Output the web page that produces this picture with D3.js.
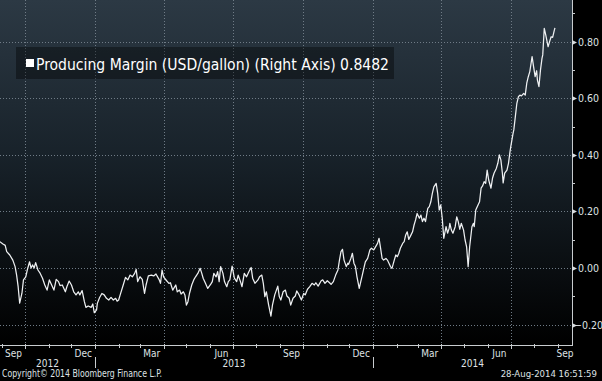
<!DOCTYPE html>
<html><head><meta charset="utf-8">
<script src="https://cdn.jsdelivr.net/npm/d3@7/dist/d3.min.js"></script>
<style>
html,body{margin:0;padding:0;background:#000;overflow:hidden;}
svg{display:block;}
text{font-family:"Liberation Sans Narrow","DejaVu Sans Condensed","Arial Narrow","Liberation Sans",sans-serif;}
</style></head>
<body>
<svg id="chart" width="602" height="381"></svg>
<script>
const seriesName = "Producing Margin (USD/gallon) (Right Axis)";
const lastValue = "0.8482";
const copyrightText = "Copyright\u00A9 2014 Bloomberg Finance L.P.";
const stampText = "28-Aug-2014 16:51:59";
const yTicks = [-0.2, 0, 0.2, 0.4, 0.6, 0.8];
const yMinorTicks = [-0.1, 0.1, 0.3, 0.5, 0.7, 0.9];
const xDomain = ["2012-08-29T04:00Z", "2014-09-19T10:00Z"];
const yDomain = [-0.272, 0.947];

const dates = [
"2012-08-29","2012-09-02","2012-09-05","2012-09-07","2012-09-11","2012-09-15","2012-09-18","2012-09-20","2012-09-22","2012-09-24",
"2012-09-27","2012-09-29","2012-10-02","2012-10-04","2012-10-07","2012-10-09","2012-10-11","2012-10-13","2012-10-15","2012-10-18",
"2012-10-21","2012-10-24","2012-10-27","2012-10-30","2012-11-02","2012-11-05","2012-11-08","2012-11-11","2012-11-14","2012-11-16",
"2012-11-19","2012-11-23","2012-11-25","2012-11-28","2012-12-01","2012-12-04","2012-12-07","2012-12-10","2012-12-12","2012-12-15",
"2012-12-18","2012-12-20","2012-12-23","2012-12-27","2012-12-29","2012-12-31","2013-01-03","2013-01-04","2013-01-07","2013-01-10",
"2013-01-13","2013-01-16","2013-01-19","2013-01-22","2013-01-25","2013-01-28","2013-01-30","2013-02-01","2013-02-03","2013-02-07",
"2013-02-10","2013-02-13","2013-02-16","2013-02-19","2013-02-22","2013-02-24","2013-02-26","2013-03-01","2013-03-04","2013-03-07",
"2013-03-09","2013-03-12","2013-03-16","2013-03-19","2013-03-22","2013-03-26","2013-03-28","2013-03-30","2013-04-01","2013-04-05",
"2013-04-08","2013-04-10","2013-04-13","2013-04-17","2013-04-19","2013-04-22","2013-04-24","2013-04-27","2013-04-29","2013-05-01",
"2013-05-03","2013-05-05","2013-05-08","2013-05-11","2013-05-13","2013-05-16","2013-05-19","2013-05-21","2013-05-23","2013-05-26",
"2013-05-29","2013-06-02","2013-06-04","2013-06-06","2013-06-09","2013-06-11","2013-06-13","2013-06-15","2013-06-18","2013-06-20",
"2013-06-23","2013-06-25","2013-06-27","2013-06-30","2013-07-03","2013-07-06","2013-07-08","2013-07-11","2013-07-13","2013-07-16",
"2013-07-19","2013-07-22","2013-07-25","2013-07-27","2013-07-30","2013-08-03","2013-08-05","2013-08-08","2013-08-10","2013-08-12",
"2013-08-14","2013-08-17","2013-08-20","2013-08-22","2013-08-25","2013-08-29","2013-08-31","2013-09-02","2013-09-05","2013-09-08",
"2013-09-10","2013-09-13","2013-09-15","2013-09-18","2013-09-21","2013-09-23","2013-09-26","2013-09-29","2013-10-02","2013-10-04",
"2013-10-07","2013-10-10","2013-10-13","2013-10-16","2013-10-18","2013-10-21","2013-10-25","2013-10-27","2013-10-30","2013-11-02",
"2013-11-05","2013-11-07","2013-11-10","2013-11-13","2013-11-16","2013-11-18","2013-11-20","2013-11-22","2013-11-24","2013-11-27",
"2013-11-29","2013-11-30","2013-12-03","2013-12-05","2013-12-07","2013-12-09","2013-12-11","2013-12-14","2013-12-16","2013-12-18",
"2013-12-20","2013-12-22","2013-12-25","2013-12-28","2013-12-30","2014-01-02","2014-01-04","2014-01-07","2014-01-09","2014-01-11",
"2014-01-13","2014-01-15","2014-01-18","2014-01-20","2014-01-22","2014-01-24","2014-01-26","2014-01-29","2014-01-31","2014-02-02",
"2014-02-04","2014-02-06","2014-02-09","2014-02-11","2014-02-13","2014-02-15","2014-02-17","2014-02-20","2014-02-22","2014-02-24",
"2014-02-26","2014-02-28","2014-03-03","2014-03-05","2014-03-07","2014-03-09","2014-03-11","2014-03-14","2014-03-16","2014-03-18",
"2014-03-20","2014-03-22","2014-03-25","2014-03-27","2014-03-29","2014-03-31","2014-04-02","2014-04-04","2014-04-07","2014-04-09",
"2014-04-11","2014-04-12","2014-04-14","2014-04-16","2014-04-19","2014-04-21","2014-04-23","2014-04-25","2014-04-27","2014-04-30",
"2014-05-02","2014-05-04","2014-05-06","2014-05-08","2014-05-11","2014-05-13","2014-05-14","2014-05-16","2014-05-19","2014-05-21",
"2014-05-23","2014-05-25","2014-05-27","2014-05-29","2014-05-31","2014-06-02","2014-06-05","2014-06-07","2014-06-09","2014-06-12",
"2014-06-14","2014-06-16","2014-06-18","2014-06-20","2014-06-21","2014-06-23","2014-06-26","2014-06-28","2014-06-30","2014-07-01",
"2014-07-04","2014-07-05","2014-07-07","2014-07-09","2014-07-11","2014-07-13","2014-07-15","2014-07-18","2014-07-20","2014-07-22",
"2014-07-24","2014-07-26","2014-07-29","2014-07-31","2014-08-02","2014-08-04","2014-08-05","2014-08-07","2014-08-09","2014-08-11",
"2014-08-12","2014-08-14","2014-08-16","2014-08-19","2014-08-21","2014-08-23","2014-08-25","2014-08-27","2014-08-28"
];
const values = [
0.093,0.085,0.080,0.058,0.046,0.028,0.005,-0.025,-0.066,-0.124,
-0.089,-0.042,-0.031,-0.007,0.022,0.000,0.011,0.000,0.019,-0.007,
-0.019,-0.036,-0.060,-0.078,-0.042,-0.060,-0.078,-0.040,-0.048,-0.062,
-0.060,-0.084,-0.066,-0.046,-0.060,-0.084,-0.095,-0.084,-0.095,-0.080,
-0.119,-0.139,-0.134,-0.139,-0.127,-0.158,-0.148,-0.125,-0.104,-0.090,
-0.095,-0.107,-0.113,-0.104,-0.113,-0.107,-0.117,-0.113,-0.095,-0.060,
-0.033,-0.042,-0.025,-0.031,-0.019,-0.005,-0.048,-0.031,-0.040,-0.090,
-0.060,-0.028,-0.025,-0.028,-0.021,-0.040,-0.054,-0.007,-0.031,-0.045,
-0.054,-0.052,-0.078,-0.060,-0.084,-0.078,-0.092,-0.084,-0.095,-0.131,
-0.119,-0.090,-0.060,-0.040,-0.031,-0.019,-0.001,-0.017,-0.036,-0.054,
-0.072,-0.057,-0.048,-0.019,-0.031,-0.013,-0.048,0.005,-0.019,-0.048,
-0.066,-0.048,-0.042,0.007,-0.036,-0.048,-0.025,-0.048,-0.066,-0.019,
-0.031,-0.013,0.002,-0.036,-0.054,-0.042,-0.031,-0.025,-0.054,-0.101,
-0.084,-0.131,-0.170,-0.131,-0.095,-0.064,-0.101,-0.113,-0.084,-0.078,
-0.099,-0.107,-0.131,-0.107,-0.099,-0.081,-0.095,-0.113,-0.090,-0.095,
-0.075,-0.066,-0.054,-0.060,-0.052,-0.064,-0.045,-0.042,-0.054,-0.045,
-0.052,-0.058,-0.048,-0.025,-0.007,0.028,0.058,0.066,0.028,0.005,
0.017,0.013,0.034,0.052,0.017,0.005,-0.031,-0.072,-0.048,-0.025,
-0.001,0.022,0.034,0.064,0.070,0.064,0.073,0.087,0.105,0.070,
0.034,0.028,0.034,0.028,0.017,0.005,-0.001,0.028,0.046,0.040,
0.052,0.070,0.087,0.093,0.117,0.128,0.101,0.117,0.128,0.152,
0.170,0.193,0.176,0.187,0.164,0.176,0.164,0.211,0.217,0.234,
0.264,0.287,0.299,0.264,0.205,0.223,0.176,0.105,0.146,0.123,
0.140,0.158,0.134,0.123,0.146,0.181,0.164,0.137,0.158,0.134,
0.099,0.075,0.005,0.075,0.146,0.158,0.146,0.205,0.223,0.234,
0.282,0.290,0.305,0.299,0.346,0.311,0.282,0.317,0.335,0.352,
0.370,0.400,0.382,0.335,0.301,0.335,0.346,0.370,0.411,0.429,
0.476,0.488,0.535,0.582,0.605,0.611,0.608,0.617,0.611,0.653,
0.676,0.694,0.747,0.711,0.676,0.697,0.664,0.641,0.699,0.741,
0.753,0.847,0.823,0.782,0.800,0.817,0.815,0.838,0.8482
];

const W = 572, H = 345;
const svg = d3.select("#chart");
const parse = d3.utcParse("%Y-%m-%d");
const data = dates.map((d, i) => ({date: parse(d), value: values[i]}));

const x = d3.scaleUtc().domain(xDomain.map(d => new Date(d))).range([0, W]);
const y = d3.scaleLinear().domain(yDomain).range([H, 0]);

// background gradient
const defs = svg.append("defs");
const grad = defs.append("linearGradient").attr("id", "bg").attr("x1", 0).attr("y1", 0).attr("x2", 0).attr("y2", 1);
grad.append("stop").attr("offset", "0%").attr("stop-color", "#2c3944");
grad.append("stop").attr("offset", "45%").attr("stop-color", "#18222a");
grad.append("stop").attr("offset", "100%").attr("stop-color", "#000000");
svg.append("rect").attr("width", 602).attr("height", 381).attr("fill", "#000");
svg.append("rect").attr("x", 0).attr("y", 0).attr("width", W).attr("height", H).attr("fill", "url(#bg)");

const [d0, d1] = x.domain();
const months = d3.utcMonth.range(d3.utcMonth.floor(d0), d1);
const monthStarts = d3.utcMonth.range(d3.utcMonth.ceil(d0), d1);
const quarterStarts = monthStarts.filter(d => d.getUTCMonth() % 3 === 0);

// grid
const grid = svg.append("g").attr("stroke", "#6f7b86").attr("stroke-width", 1).attr("stroke-dasharray", "1,2").attr("shape-rendering", "crispEdges");
grid.selectAll("line.v").data(quarterStarts).join("line")
  .attr("x1", d => Math.round(x(d)) + 0.5).attr("x2", d => Math.round(x(d)) + 0.5)
  .attr("y1", 0).attr("y2", H);
grid.selectAll("line.h").data(yTicks).join("line")
  .attr("x1", 0).attr("x2", W)
  .attr("y1", d => Math.round(y(d)) + 0.5).attr("y2", d => Math.round(y(d)) + 0.5);

// line
const line = d3.line().x(d => x(d.date)).y(d => y(d.value));
svg.append("path").datum(data).attr("d", line)
  .attr("fill", "none").attr("stroke", "#eef0f2").attr("stroke-width", 1.25).attr("stroke-linejoin", "round");

// legend
const lg = svg.append("g");
lg.append("rect").attr("x", 16).attr("y", 47).attr("width", 378).attr("height", 32).attr("fill", "#000").attr("fill-opacity", 0.38);
lg.append("rect").attr("x", 26).attr("y", 59).attr("width", 8).attr("height", 8).attr("fill", "#fff");
lg.append("text").attr("x", 36).attr("y", 69.5).attr("fill", "#fff").attr("font-size", 16.5)
  .attr("textLength", 353).attr("lengthAdjust", "spacingAndGlyphs")
  .text(seriesName + " " + lastValue);

// axes lines
const ax = svg.append("g").attr("stroke", "#c8cccf").attr("shape-rendering", "crispEdges");
ax.append("line").attr("x1", 0).attr("x2", W + 0.5).attr("y1", H + 0.5).attr("y2", H + 0.5).attr("stroke-width", 1.5);
ax.append("line").attr("x1", W + 0.5).attr("x2", W + 0.5).attr("y1", 0).attr("y2", H + 0.5).attr("stroke-width", 1.5);

// x ticks
ax.selectAll("line.mt").data(monthStarts).join("line")
  .attr("x1", d => Math.round(x(d)) + 0.5).attr("x2", d => Math.round(x(d)) + 0.5)
  .attr("y1", H - 1).attr("y2", d => d.getUTCMonth() % 3 === 0 ? H + 4 : H + 2.5);

// y ticks
ax.selectAll("line.ymin").data(yMinorTicks).join("line")
  .attr("x1", W).attr("x2", W + 3)
  .attr("y1", d => Math.round(y(d)) + 0.5).attr("y2", d => Math.round(y(d)) + 0.5);
svg.append("g").selectAll("path").data(yTicks).join("path")
  .attr("d", d => { const yy = Math.round(y(d)) + 0.5; return `M${W},${yy - 2.5}L${W + 5},${yy}L${W},${yy + 2.5}Z`; })
  .attr("fill", "#d8dcdf");
svg.append("g").selectAll("text").data(yTicks).join("text")
  .attr("x", d => d < 0 ? 574 : 578).attr("y", d => y(d) + 4).attr("fill", "#dfe2e4").attr("font-size", 10.5)
  .text(d3.format(".2f"));

// month labels (quarter-end months), centered in visible part of month
const labelMonths = months.filter(m => m.getUTCMonth() % 3 === 2);
svg.append("g").selectAll("text").data(labelMonths).join("text")
  .attr("x", m => { const a = Math.max(+m, +d0), b = Math.min(+d3.utcMonth.offset(m, 1), +d1); return (x(a) + x(b)) / 2; })
  .attr("y", 356.5).attr("text-anchor", "middle").attr("fill", "#dfe2e4").attr("font-size", 10)
  .text(d3.utcFormat("%b"));

// years
const years = d3.utcYear.range(d3.utcYear.floor(d0), d1);
svg.append("g").selectAll("text").data(years).join("text")
  .attr("x", yv => { const a = Math.max(+yv, +d0), b = Math.min(+d3.utcYear.offset(yv, 1), +d1); return (x(a) + x(b)) / 2; })
  .attr("y", 367).attr("text-anchor", "middle").attr("fill", "#dfe2e4").attr("font-size", 10)
  .text(d3.utcFormat("%Y"));
svg.append("g").attr("stroke", "#c8cccf").attr("shape-rendering", "crispEdges")
  .selectAll("line").data(d3.utcYear.range(d3.utcYear.ceil(d0), d1)).join("line")
  .attr("x1", d => Math.round(x(d)) + 0.5).attr("x2", d => Math.round(x(d)) + 0.5)
  .attr("y1", 357).attr("y2", 368);

// footer
svg.append("text").attr("x", 2).attr("y", 377).attr("fill", "#dfe2e4").attr("font-size", 10)
  .attr("textLength", 160).attr("lengthAdjust", "spacingAndGlyphs").text(copyrightText);
svg.append("text").attr("x", 597).attr("y", 377).attr("text-anchor", "end").attr("fill", "#dfe2e4").attr("font-size", 9.5)
  .text(stampText);
</script>
</body></html>
